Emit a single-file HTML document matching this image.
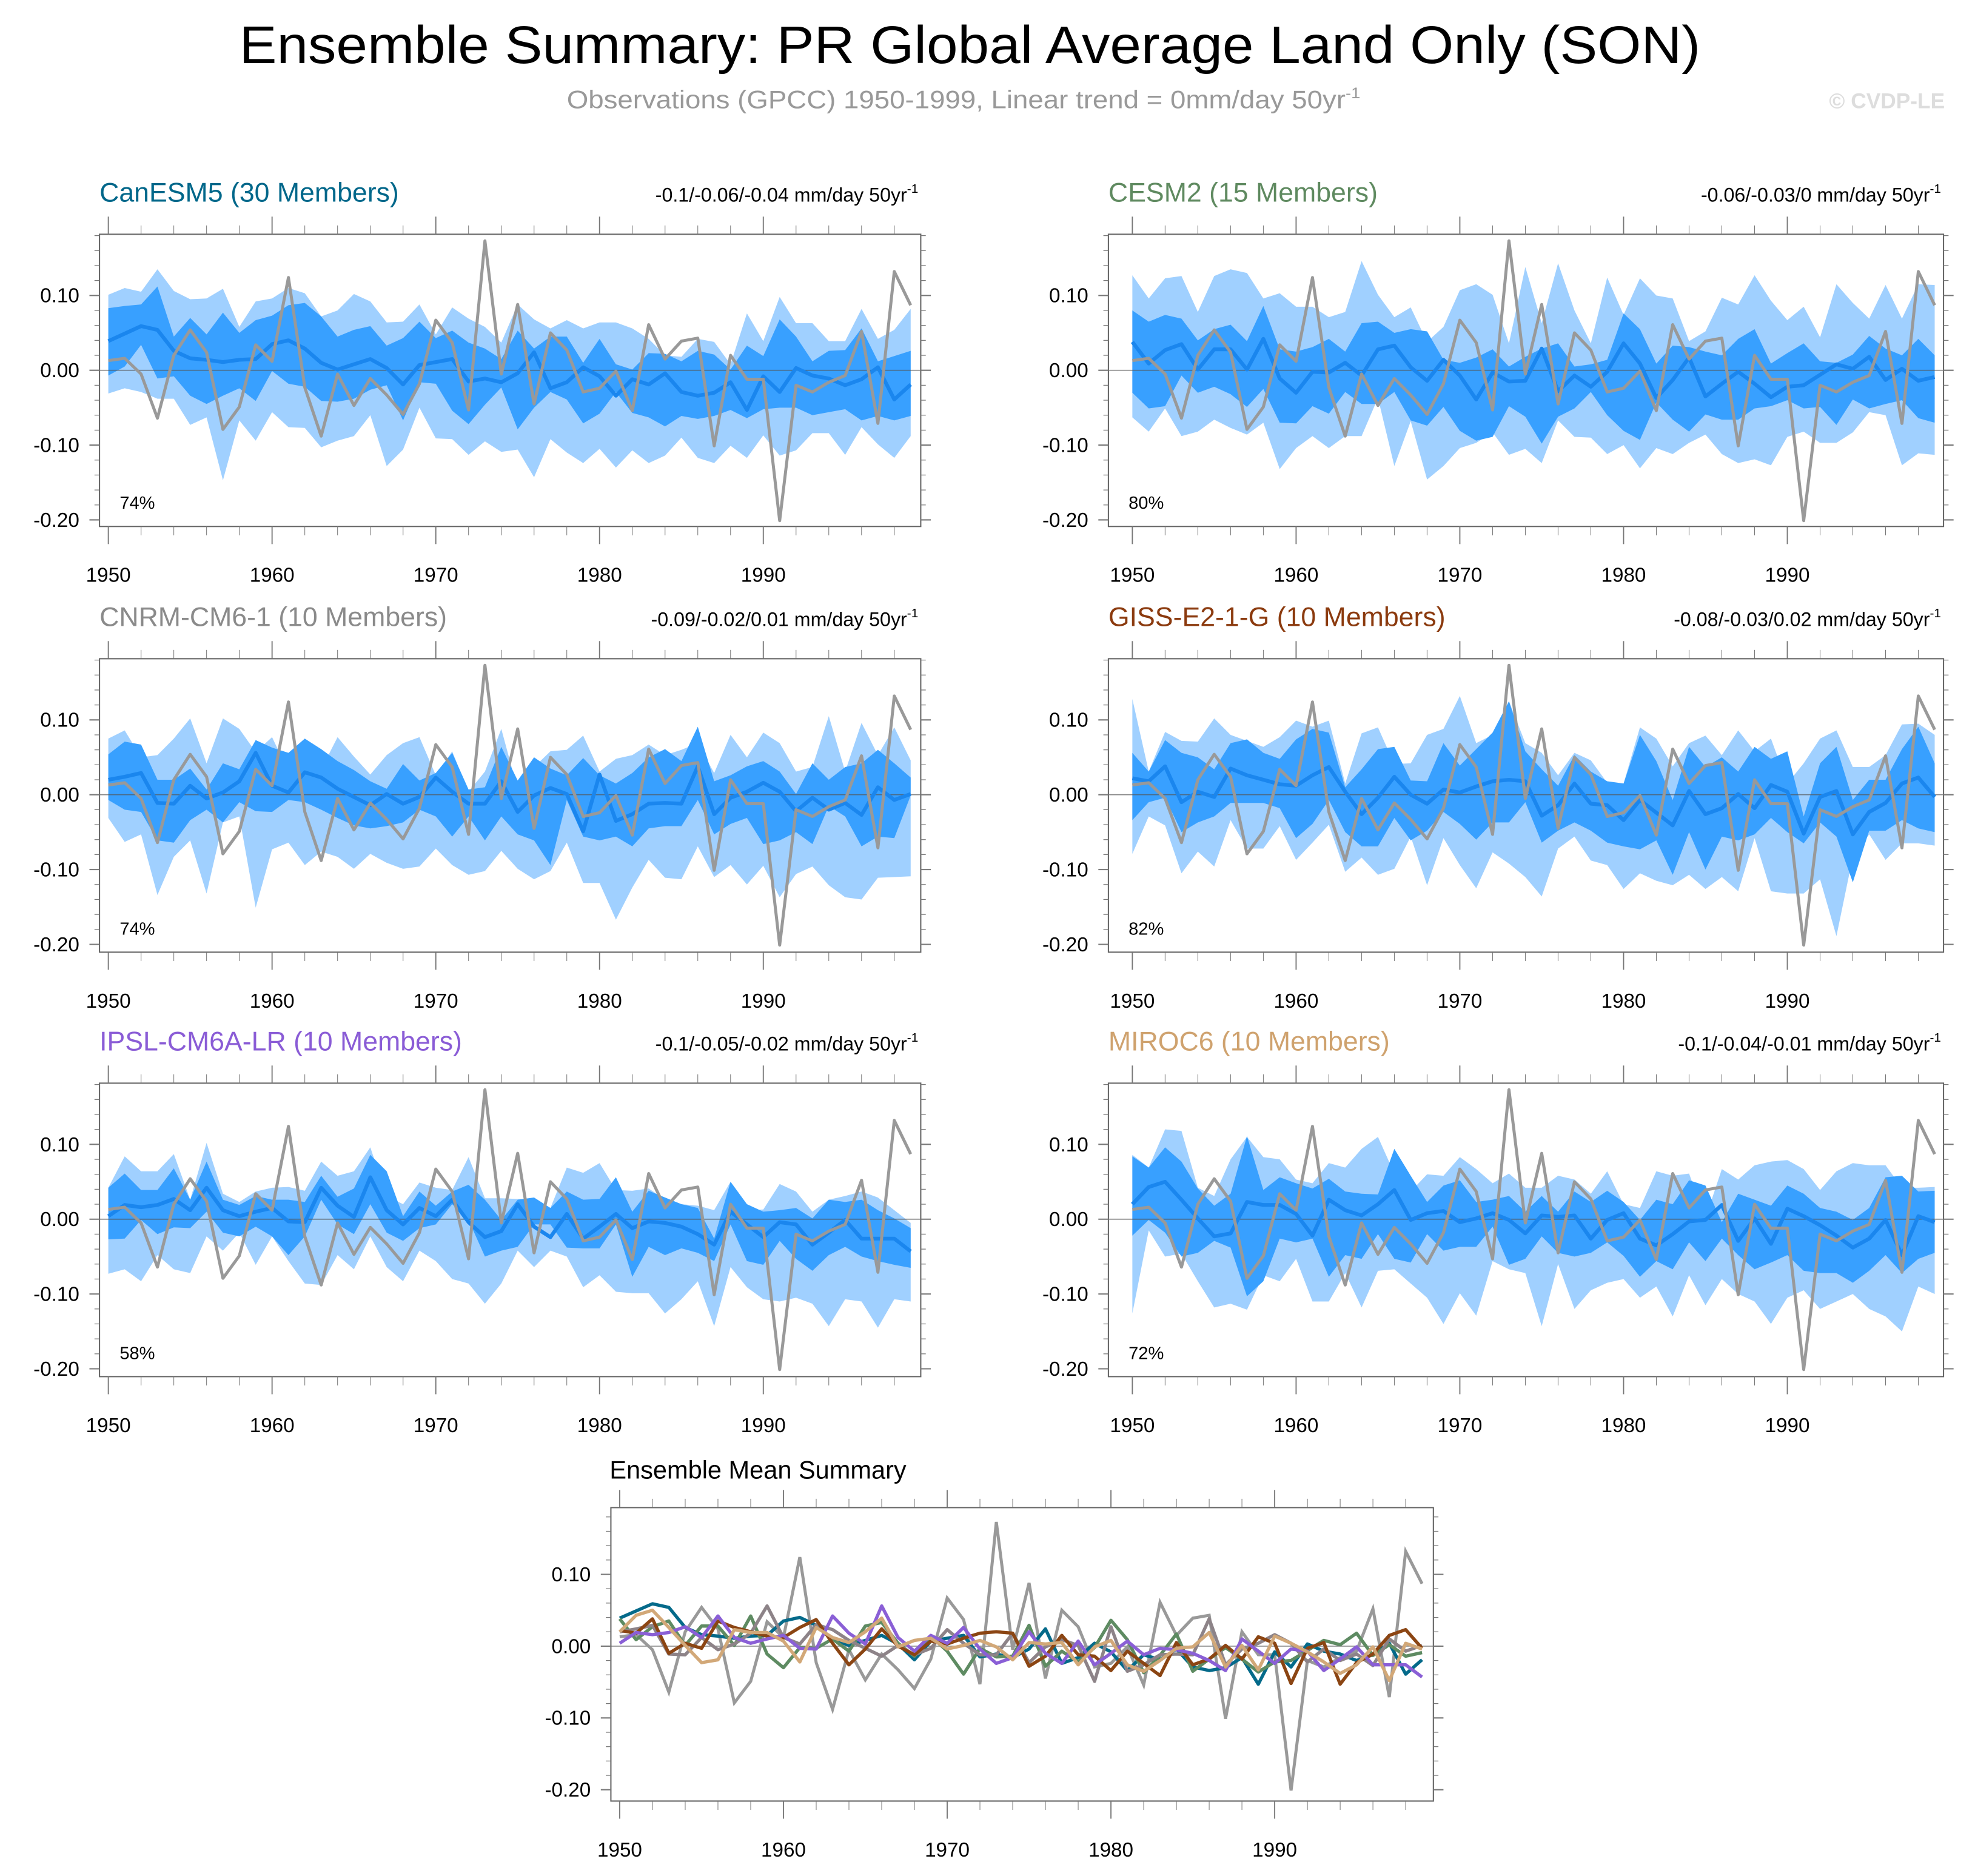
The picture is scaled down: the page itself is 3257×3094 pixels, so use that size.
<!DOCTYPE html>
<html><head><meta charset="utf-8"><title>Ensemble Summary PR</title>
<style>html,body{margin:0;padding:0;background:#fff}svg{display:block}text{font-family:"Liberation Sans",Arial,sans-serif}</style>
</head><body>
<svg id="chart" xmlns="http://www.w3.org/2000/svg" width="3257" height="3094" viewBox="0 0 1568 1489.5" preserveAspectRatio="none">
<rect x="0" y="0" width="1568" height="1489.5" fill="#fff"/>
<text x="770" y="50" font-size="42" text-anchor="middle" textLength="1160" lengthAdjust="spacingAndGlyphs">Ensemble Summary: PR Global Average Land Only (SON)</text>
<text x="450" y="86" font-size="20" fill="#999" textLength="630" lengthAdjust="spacingAndGlyphs">Observations (GPCC) 1950-1999, Linear trend = 0mm/day 50yr<tspan dy="-8" font-size="12">-1</tspan></text>
<text x="1544" y="86" font-size="17" font-weight="bold" fill="#ddd" text-anchor="end">© CVDP-LE</text>
<g id="plots"></g>
</svg>
<script>
const years = [];
for (let y = 1950; y <= 1999; y++) years.push(y);
const obs = [0.013,0.016,-0.005,-0.064,0.020,0.054,0.024,-0.079,-0.049,0.034,0.012,0.124,-0.023,-0.088,-0.005,-0.047,-0.011,-0.033,-0.059,-0.018,0.067,0.037,-0.053,0.173,-0.005,0.088,-0.045,0.050,0.027,-0.029,-0.024,-0.001,-0.054,0.061,0.015,0.039,0.043,-0.101,0.020,-0.012,-0.012,-0.201,-0.020,-0.029,-0.016,-0.007,0.052,-0.071,0.132,0.087];

const modelNames = ["CanESM5 (30 Members)","CESM2 (15 Members)","CNRM-CM6-1 (10 Members)","GISS-E2-1-G (10 Members)","IPSL-CM6A-LR (10 Members)","MIROC6 (10 Members)"];
const trendLabels = ["-0.1/-0.06/-0.04 mm/day 50yr","-0.06/-0.03/0 mm/day 50yr","-0.09/-0.02/0.01 mm/day 50yr","-0.08/-0.03/0.02 mm/day 50yr","-0.1/-0.05/-0.02 mm/day 50yr","-0.1/-0.04/-0.01 mm/day 50yr"];
const pctLabels = ["74%","80%","74%","82%","58%","72%"];
const modelColors = ["#00678a","#5f8a60","#8a8a8a","#8b3a0e","#8a5cd6","#cfa26e"];
const meanLineColors = ["#046a8a","#5e8b62","#8d8388","#8b4513","#8a5fd6","#d2a878"];

const mean0 = [0.039,0.049,0.059,0.054,0.026,0.016,0.014,0.011,0.014,0.015,0.035,0.040,0.029,0.010,0.001,0.008,0.015,0.003,-0.019,0.007,0.011,0.015,-0.015,-0.011,-0.016,-0.004,0.024,-0.024,-0.016,0.004,-0.008,-0.034,-0.012,-0.019,-0.004,-0.029,-0.034,-0.030,-0.016,-0.053,-0.008,-0.029,0.003,-0.007,-0.011,-0.020,-0.012,0.004,-0.039,-0.019];
const inHi0 = [0.083,0.086,0.088,0.112,0.045,0.070,0.048,0.077,0.050,0.067,0.073,0.087,0.090,0.072,0.045,0.054,0.059,0.033,0.043,0.065,0.043,0.053,0.037,0.029,0.015,0.053,0.029,0.045,0.045,0.010,0.042,0.008,0.001,0.023,0.022,0.012,0.026,0.021,0.001,0.033,0.019,0.068,0.045,0.012,0.026,0.027,0.056,0.012,0.019,0.026];
const inLo0 = [-0.007,0.005,0.034,-0.011,-0.008,-0.034,-0.045,-0.034,-0.024,-0.041,-0.001,-0.018,-0.022,-0.041,-0.042,-0.038,-0.026,-0.020,-0.067,-0.016,-0.018,-0.054,-0.072,-0.046,-0.023,-0.079,-0.050,-0.029,-0.039,-0.071,-0.058,-0.029,-0.057,-0.063,-0.075,-0.061,-0.065,-0.061,-0.053,-0.064,-0.052,-0.050,-0.050,-0.060,-0.056,-0.052,-0.067,-0.061,-0.067,-0.061];
const outHi0 = [0.101,0.110,0.105,0.135,0.106,0.095,0.096,0.109,0.058,0.092,0.096,0.110,0.103,0.072,0.080,0.102,0.092,0.064,0.065,0.088,0.048,0.084,0.069,0.058,0.037,0.088,0.068,0.056,0.067,0.056,0.064,0.064,0.056,0.042,0.020,0.018,0.042,0.038,0.008,0.076,0.039,0.098,0.063,0.063,0.039,0.039,0.082,0.042,0.054,0.082];
const outLo0 = [-0.031,-0.024,-0.029,-0.038,-0.038,-0.073,-0.063,-0.147,-0.067,-0.094,-0.056,-0.076,-0.077,-0.103,-0.094,-0.088,-0.060,-0.128,-0.106,-0.050,-0.091,-0.092,-0.113,-0.095,-0.109,-0.106,-0.143,-0.092,-0.110,-0.124,-0.105,-0.130,-0.107,-0.124,-0.114,-0.090,-0.117,-0.124,-0.101,-0.117,-0.087,-0.114,-0.107,-0.084,-0.084,-0.113,-0.076,-0.099,-0.117,-0.088];

const mean1 = [0.038,0.009,0.027,0.035,0.001,0.028,0.028,0.001,0.042,-0.011,-0.030,-0.002,-0.003,0.010,-0.007,0.028,0.033,0.004,-0.014,0.014,-0.007,-0.039,-0.003,-0.015,-0.014,0.029,-0.028,-0.007,-0.022,-0.002,0.036,0.009,-0.037,-0.013,0.017,-0.035,-0.018,-0.002,-0.018,-0.036,-0.022,-0.020,-0.006,0.008,0.002,0.018,-0.013,0.002,-0.014,-0.009];
const inHi1 = [0.080,0.065,0.074,0.069,0.040,0.055,0.061,0.039,0.086,0.028,0.025,0.031,0.042,0.025,0.063,0.065,0.050,0.055,0.052,0.014,0.010,0.017,0.028,0.005,0.018,0.029,0.036,0.005,0.008,0.014,0.076,0.055,0.009,0.033,0.031,0.025,0.020,0.042,0.055,0.009,0.023,0.036,0.012,0.010,0.021,0.046,0.029,0.020,0.042,0.020];
const inLo1 = [-0.030,-0.051,-0.048,-0.007,-0.030,-0.022,-0.032,-0.049,-0.025,-0.070,-0.071,-0.048,-0.058,-0.029,-0.045,-0.045,-0.029,-0.067,-0.074,-0.049,-0.081,-0.094,-0.089,-0.048,-0.062,-0.098,-0.062,-0.051,-0.029,-0.060,-0.081,-0.093,-0.043,-0.066,-0.082,-0.059,-0.066,-0.066,-0.051,-0.048,-0.040,-0.051,-0.049,-0.073,-0.039,-0.051,-0.045,-0.040,-0.064,-0.070];
const outHi1 = [0.127,0.096,0.123,0.126,0.078,0.126,0.135,0.130,0.096,0.103,0.085,0.085,0.071,0.078,0.146,0.101,0.071,0.084,0.038,0.058,0.107,0.115,0.101,0.036,0.138,0.063,0.143,0.080,0.036,0.124,0.074,0.123,0.100,0.096,0.039,0.052,0.097,0.088,0.127,0.093,0.067,0.085,0.044,0.115,0.090,0.069,0.114,0.069,0.115,0.114];
const outLo1 = [-0.063,-0.082,-0.051,-0.088,-0.082,-0.066,-0.077,-0.086,-0.070,-0.132,-0.104,-0.088,-0.104,-0.088,-0.088,-0.037,-0.128,-0.068,-0.146,-0.128,-0.104,-0.097,-0.083,-0.113,-0.105,-0.124,-0.067,-0.089,-0.090,-0.112,-0.100,-0.131,-0.104,-0.112,-0.097,-0.086,-0.112,-0.124,-0.119,-0.127,-0.089,-0.082,-0.097,-0.097,-0.083,-0.056,-0.060,-0.127,-0.111,-0.113];

const mean2 = [0.020,0.024,0.029,-0.011,-0.012,0.012,-0.005,0.003,0.018,0.056,0.012,0.003,0.030,0.023,0.008,-0.003,-0.014,0.001,-0.012,-0.003,0.023,0.004,-0.012,-0.012,0.018,-0.023,-0.001,0.009,0.001,-0.049,0.027,-0.035,-0.026,-0.012,-0.011,-0.012,0.038,-0.026,-0.004,0.004,0.016,0.004,-0.022,-0.004,-0.020,-0.011,-0.027,0.010,-0.007,0.001];
const inHi2 = [0.054,0.071,0.067,0.020,0.020,0.035,0.007,0.042,0.034,0.073,0.063,0.056,0.075,0.061,0.045,0.033,0.018,0.008,0.041,0.019,0.029,0.056,0.007,0.010,0.064,0.019,0.050,0.035,0.026,0.049,0.026,0.015,0.029,0.050,0.061,0.045,0.091,0.018,0.026,0.038,0.045,0.031,0.001,0.042,0.020,0.037,0.042,0.060,0.042,0.023];
const inLo2 = [-0.007,-0.020,-0.023,-0.061,-0.064,-0.034,-0.020,-0.037,-0.010,-0.022,-0.023,-0.007,-0.010,-0.020,-0.031,-0.041,-0.045,-0.042,-0.037,-0.020,-0.029,-0.056,-0.029,-0.061,-0.029,-0.053,-0.061,-0.094,-0.007,-0.056,-0.061,-0.056,-0.069,-0.045,-0.042,-0.042,-0.007,-0.053,-0.039,-0.031,-0.066,-0.061,-0.050,-0.066,-0.015,-0.029,-0.069,-0.056,-0.058,-0.001];
const outHi2 = [0.075,0.086,0.050,0.053,0.075,0.102,0.042,0.102,0.088,0.057,0.077,0.031,0.053,0.034,0.077,0.051,0.027,0.053,0.069,0.077,0.026,0.058,0.004,0.031,0.088,0.007,0.037,0.058,0.060,0.079,0.031,0.048,0.053,0.067,0.053,0.060,0.069,0.029,0.080,0.050,0.083,0.069,0.031,0.037,0.105,0.031,0.096,0.053,0.090,0.046];
const outLo2 = [-0.031,-0.063,-0.053,-0.134,-0.083,-0.061,-0.132,-0.037,-0.029,-0.151,-0.073,-0.064,-0.094,-0.076,-0.083,-0.099,-0.079,-0.091,-0.099,-0.096,-0.072,-0.094,-0.107,-0.102,-0.075,-0.099,-0.113,-0.102,-0.064,-0.118,-0.118,-0.167,-0.124,-0.087,-0.111,-0.113,-0.069,-0.110,-0.094,-0.120,-0.095,-0.137,-0.106,-0.096,-0.121,-0.137,-0.140,-0.111,-0.110,-0.109];

const mean3 = [0.022,0.018,0.038,-0.010,0.004,-0.003,0.035,0.026,0.020,0.014,0.012,0.026,0.037,0.004,-0.026,-0.004,0.024,0.000,-0.012,0.007,0.003,0.011,0.018,0.020,0.018,-0.028,-0.014,0.015,-0.012,-0.014,-0.034,-0.007,-0.024,-0.041,0.005,-0.026,-0.018,0.001,-0.018,0.013,0.004,-0.052,-0.003,0.005,-0.053,-0.023,-0.011,0.015,0.023,-0.003];
const inHi3 = [0.056,0.031,0.073,0.056,0.050,0.034,0.069,0.074,0.056,0.048,0.074,0.088,0.083,0.010,0.034,0.061,0.064,0.019,0.018,0.069,0.039,0.061,0.083,0.125,0.058,0.034,0.012,0.053,0.031,0.018,0.015,0.080,0.045,-0.007,0.064,0.037,0.050,0.031,0.064,0.048,0.058,-0.029,0.042,0.064,-0.007,0.020,0.020,0.061,0.091,0.042];
const inLo3 = [-0.034,-0.010,-0.004,-0.050,-0.037,-0.029,-0.011,-0.011,-0.011,-0.018,-0.058,-0.039,-0.007,-0.050,-0.069,-0.069,-0.031,-0.061,-0.048,-0.023,-0.039,-0.060,-0.037,-0.037,-0.010,-0.064,-0.048,-0.037,-0.048,-0.064,-0.069,-0.073,-0.061,-0.107,-0.050,-0.100,-0.056,-0.061,-0.053,-0.031,-0.050,-0.065,-0.037,-0.056,-0.117,-0.048,-0.048,-0.034,-0.045,-0.050];
const outHi3 = [0.128,0.031,0.084,0.072,0.071,0.102,0.080,0.072,0.064,0.077,0.099,0.091,0.099,0.015,0.082,0.090,0.041,0.042,0.080,0.088,0.132,0.069,0.080,0.125,0.069,0.056,0.026,0.056,0.046,0.016,0.015,0.090,0.075,0.038,0.069,0.079,0.053,0.086,0.058,0.075,0.015,0.042,0.075,0.086,0.037,0.037,0.053,0.094,0.095,0.080];
const outLo3 = [-0.079,-0.029,-0.041,-0.105,-0.076,-0.096,-0.034,-0.072,-0.072,-0.042,-0.087,-0.064,-0.040,-0.103,-0.084,-0.107,-0.099,-0.056,-0.121,-0.058,-0.094,-0.125,-0.077,-0.092,-0.110,-0.136,-0.072,-0.056,-0.088,-0.094,-0.126,-0.105,-0.115,-0.121,-0.107,-0.126,-0.110,-0.129,-0.058,-0.129,-0.132,-0.132,-0.113,-0.189,-0.083,-0.053,-0.087,-0.065,-0.065,-0.068];

const mean4 = [0.004,0.019,0.016,0.019,0.027,0.012,0.042,0.012,0.004,0.010,0.015,-0.003,-0.004,0.042,0.018,0.003,0.056,0.012,-0.007,0.015,0.004,0.026,-0.004,-0.024,-0.016,0.020,-0.010,-0.024,0.007,-0.026,-0.010,0.007,-0.012,-0.003,-0.005,-0.010,-0.020,-0.034,0.010,-0.007,-0.024,-0.004,-0.007,-0.034,-0.018,-0.001,-0.026,-0.026,-0.026,-0.043];
const inHi4 = [0.042,0.061,0.039,0.039,0.068,0.026,0.077,0.026,0.019,0.031,0.026,0.026,0.023,0.058,0.030,0.041,0.086,0.064,0.004,0.037,0.018,0.037,0.046,0.026,-0.001,0.026,0.029,0.015,0.037,0.026,0.027,0.056,0.010,0.038,0.029,0.020,0.015,-0.026,0.050,0.020,0.010,0.012,0.015,0.001,0.026,0.023,0.026,0.012,0.001,-0.012];
const inLo4 = [-0.027,-0.026,-0.001,-0.020,-0.011,-0.012,0.010,-0.018,-0.023,-0.010,-0.023,-0.048,-0.023,0.026,-0.007,-0.020,0.020,-0.018,-0.029,-0.012,-0.007,0.020,-0.001,-0.050,-0.042,-0.037,-0.007,-0.007,-0.038,-0.039,-0.039,-0.007,-0.077,-0.037,-0.048,-0.039,-0.045,-0.056,-0.007,-0.056,-0.061,-0.029,-0.053,-0.069,-0.048,-0.037,-0.050,-0.056,-0.061,-0.065];
const outHi4 = [0.042,0.084,0.064,0.064,0.087,0.026,0.102,0.034,0.023,0.037,0.042,0.043,0.038,0.077,0.058,0.064,0.096,0.031,0.020,0.049,0.042,0.039,0.083,0.028,0.028,0.027,0.026,0.015,0.069,0.062,0.075,0.039,0.038,0.041,0.026,0.020,0.018,0.012,0.050,0.012,0.013,0.047,0.037,0.010,0.026,0.031,0.037,0.029,0.012,-0.005];
const outLo4 = [-0.073,-0.067,-0.083,-0.048,-0.067,-0.072,-0.023,-0.042,-0.018,-0.061,-0.023,-0.056,-0.086,-0.088,-0.048,-0.067,-0.023,-0.064,-0.083,-0.042,-0.056,-0.080,-0.086,-0.113,-0.086,-0.042,-0.064,-0.042,-0.050,-0.091,-0.075,-0.097,-0.099,-0.099,-0.126,-0.107,-0.083,-0.143,-0.064,-0.091,-0.107,-0.110,-0.105,-0.113,-0.143,-0.107,-0.110,-0.145,-0.107,-0.110];

const mean5 = [0.020,0.043,0.050,0.026,0.001,-0.023,-0.019,0.023,0.019,0.019,0.007,-0.022,0.026,0.012,0.005,0.020,0.039,-0.001,0.008,0.011,-0.004,0.001,0.008,-0.001,-0.019,0.005,0.003,0.005,-0.026,-0.001,0.008,-0.026,-0.035,-0.020,-0.003,-0.001,0.019,-0.029,0.001,-0.033,0.014,0.004,-0.008,-0.022,-0.038,-0.026,-0.001,-0.048,0.004,-0.004];
const inHi5 = [0.084,0.069,0.096,0.077,0.041,0.018,0.034,0.111,0.039,0.056,0.048,0.041,0.054,0.037,0.034,0.033,0.094,0.058,0.023,0.045,0.052,0.023,0.026,0.031,0.010,0.031,0.010,0.037,0.023,0.038,0.023,-0.001,0.026,0.020,0.052,0.045,-0.004,0.034,0.026,0.018,0.045,0.034,0.015,0.010,-0.001,0.015,0.056,0.058,0.037,0.038];
const inLo5 = [-0.022,-0.001,-0.018,-0.050,-0.045,-0.029,-0.038,-0.103,-0.083,-0.026,-0.031,-0.026,-0.077,-0.048,-0.053,-0.020,-0.053,-0.058,-0.020,-0.042,-0.037,-0.037,-0.010,-0.061,-0.053,-0.023,-0.045,-0.050,-0.045,-0.031,-0.049,-0.077,-0.056,-0.067,-0.031,-0.056,-0.026,-0.048,-0.067,-0.058,-0.048,-0.069,-0.072,-0.072,-0.085,-0.069,-0.048,-0.072,-0.053,-0.045];
const outHi5 = [0.086,0.069,0.120,0.118,0.042,0.031,0.080,0.110,0.083,0.080,0.053,0.048,0.075,0.069,0.094,0.110,0.061,0.037,0.060,0.058,0.083,0.067,0.048,0.061,0.042,0.042,0.058,0.053,0.034,0.064,0.020,0.015,0.064,0.058,0.061,0.001,0.067,0.053,0.072,0.077,0.079,0.067,0.039,0.064,0.075,0.072,0.072,0.042,0.042,0.043];
const outLo5 = [-0.126,-0.015,-0.050,-0.046,-0.083,-0.118,-0.113,-0.121,-0.075,-0.083,-0.053,-0.110,-0.110,-0.072,-0.118,-0.069,-0.067,-0.086,-0.105,-0.140,-0.099,-0.129,-0.056,-0.067,-0.072,-0.143,-0.060,-0.120,-0.095,-0.085,-0.080,-0.105,-0.090,-0.130,-0.075,-0.115,-0.080,-0.100,-0.110,-0.140,-0.105,-0.095,-0.120,-0.110,-0.100,-0.120,-0.130,-0.150,-0.090,-0.100];

const yTickVals = [0.10, 0.00, -0.10, -0.20];
const yTickLabels = ["0.10","0.00","-0.10","-0.20"];
const xTickVals = [1950,1960,1970,1980,1990];
const xTickLabels = ["1950","1960","1970","1980","1990"];

const means = [mean0,mean1,mean2,mean3,mean4,mean5];
const inHis = [inHi0,inHi1,inHi2,inHi3,inHi4,inHi5];
const inLos = [inLo0,inLo1,inLo2,inLo3,inLo4,inLo5];
const outHis = [outHi0,outHi1,outHi2,outHi3,outHi4,outHi5];
const outLos = [outLo0,outLo1,outLo2,outLo3,outLo4,outLo5];

const NS = "http://www.w3.org/2000/svg";
const root = document.getElementById("plots");
function mk(tag, attrs, parent) {
  const e = document.createElementNS(NS, tag);
  for (const k in attrs) e.setAttribute(k, attrs[k]);
  (parent || root).appendChild(e);
  return e;
}
const panels = [
  {bx:79, by:186, bw:652, bh:232, x0:86, y0:294, sy:594},
  {bx:880, by:186, bw:663, bh:232, x0:899, y0:294, sy:594},
  {bx:79, by:523, bw:652, bh:233, x0:86, y0:631, sy:594},
  {bx:880, by:523, bw:663, bh:233, x0:899, y0:631, sy:594},
  {bx:79, by:860, bw:652, bh:233, x0:86, y0:968, sy:594},
  {bx:880, by:860, bw:663, bh:233, x0:899, y0:968, sy:594}
];
const summary = {bx:485, by:1197, bw:653, bh:233, x0:492, y0:1307, sy:570};

function xScale(p, yr) { return p.x0 + 13 * (yr - 1950); }
function yScale(p, v) { return p.y0 - p.sy * v; }

function bandPath(p, hi, lo) {
  let d = "";
  for (let i = 0; i < years.length; i++) d += (i ? "L" : "M") + xScale(p, years[i]).toFixed(2) + "," + yScale(p, hi[i]).toFixed(2);
  for (let i = years.length - 1; i >= 0; i--) d += "L" + xScale(p, years[i]).toFixed(2) + "," + yScale(p, lo[i]).toFixed(2);
  return d + "Z";
}
function linePts(p, vals) {
  return vals.map((v, i) => xScale(p, years[i]).toFixed(2) + "," + yScale(p, v).toFixed(2)).join(" ");
}

function drawAxes(p, g) {
  const frame = mk("rect", {x:p.bx, y:p.by, width:p.bw, height:p.bh, fill:"none", stroke:"#666", "stroke-width":1}, g);
  
  
  for (let k = -10; k <= 9; k++) {
    const v = k * 0.02;
    const yy = yScale(p, v);
    if (yy < p.by - 0.5 || yy > p.by + p.bh + 0.5) continue;
    const major = (k % 5 === 0);
    const len = major ? 8 : 4;
    mk("line", {x1:p.bx - len, y1:yy, x2:p.bx, y2:yy, stroke:"#777", "stroke-width":major ? 1 : 0.6}, g);
    mk("line", {x1:p.bx + p.bw, y1:yy, x2:p.bx + p.bw + len, y2:yy, stroke:"#777", "stroke-width":major ? 1 : 0.6}, g);
  }
  yTickVals.forEach((v, i) => {
    const t = mk("text", {x:p.bx - 16, y:yScale(p, v) + 5.5, "font-size":16, "text-anchor":"end"}, g);
    t.textContent = yTickLabels[i];
    
    
  });
  for (let yr = 1950; yr <= 1999; yr += 2) {
    const xx = xScale(p, yr);
    const major = (yr % 10 === 0);
    const len = major ? 14 : 7;
    mk("line", {x1:xx, y1:p.by - len, x2:xx, y2:p.by, stroke:"#777", "stroke-width":major ? 0.9 : 0.5}, g);
    mk("line", {x1:xx, y1:p.by + p.bh, x2:xx, y2:p.by + p.bh + len, stroke:"#777", "stroke-width":major ? 0.9 : 0.5}, g);
  }
  xTickVals.forEach((yr, i) => {
    const t = mk("text", {x:xScale(p, yr), y:p.by + p.bh + 44, "font-size":16, "text-anchor":"middle"}, g);
    t.textContent = xTickLabels[i];
    
    
  });
}

for (let m = 0; m < 6; m++) {
  const p = panels[m];
  const g = mk("g", {});
  
  
  const clipId = "clip" + m;
  const cp = mk("clipPath", {id:clipId}, g);
  mk("rect", {x:p.bx, y:p.by, width:p.bw, height:p.bh}, cp);
  const cg = mk("g", {"clip-path":"url(#" + clipId + ")"}, g);
  const ob = mk("path", {d:bandPath(p, outHis[m], outLos[m]), fill:"#a0d0ff"}, cg);
  
  
  const ib = mk("path", {d:bandPath(p, inHis[m], inLos[m]), fill:"#38a0ff"}, cg);
  
  
  mk("line", {x1:p.bx, y1:yScale(p, 0), x2:p.bx + p.bw, y2:yScale(p, 0), stroke:"#555", "stroke-width":0.8, opacity:0.7}, cg);
  const ml = mk("polyline", {points:linePts(p, means[m]), fill:"none", stroke:"#1a86ee", "stroke-width":3, "stroke-linejoin":"round"}, cg);
  
  
  const ol = mk("polyline", {points:linePts(p, obs), fill:"none", stroke:"#999", "stroke-width":2.4, "stroke-linejoin":"round"}, cg);
  
  
  drawAxes(p, g);
  const title = mk("text", {x:p.bx, y:p.by - 26, "font-size":21.5, fill:modelColors[m]}, g);
  title.textContent = modelNames[m];
  
  
  const tr = mk("text", {x:p.bx + p.bw - 2, y:p.by - 26, "font-size":15.5, "text-anchor":"end"}, g);
  tr.textContent = trendLabels[m];
  const sup = mk("tspan", {dy:-7, "font-size":10}, tr);
  sup.textContent = "-1";
  
  
  const pc = mk("text", {x:p.bx + 16, y:p.by + p.bh - 14, "font-size":14}, g);
  pc.textContent = pctLabels[m];
  
  
}

{
  const p = summary;
  const g = mk("g", {});
  
  
  const cp = mk("clipPath", {id:"clipS"}, g);
  mk("rect", {x:p.bx, y:p.by, width:p.bw, height:p.bh}, cp);
  const cg = mk("g", {"clip-path":"url(#clipS)"}, g);
  mk("line", {x1:p.bx, y1:yScale(p, 0), x2:p.bx + p.bw, y2:yScale(p, 0), stroke:"#555", "stroke-width":0.8, opacity:0.7}, cg);
  const ol = mk("polyline", {points:linePts(p, obs), fill:"none", stroke:"#999", "stroke-width":2.4}, cg);
  
  
  for (let m = 0; m < 6; m++) {
    const l = mk("polyline", {points:linePts(p, means[m]), fill:"none", stroke:meanLineColors[m], "stroke-width":2.6, "stroke-linejoin":"round"}, cg);
    
    
  }
  drawAxes(p, g);
  const t = mk("text", {x:p.bx - 1, y:p.by - 23, "font-size":20}, g);
  t.textContent = "Ensemble Mean Summary";
  
  
}
</script>
</body></html>
